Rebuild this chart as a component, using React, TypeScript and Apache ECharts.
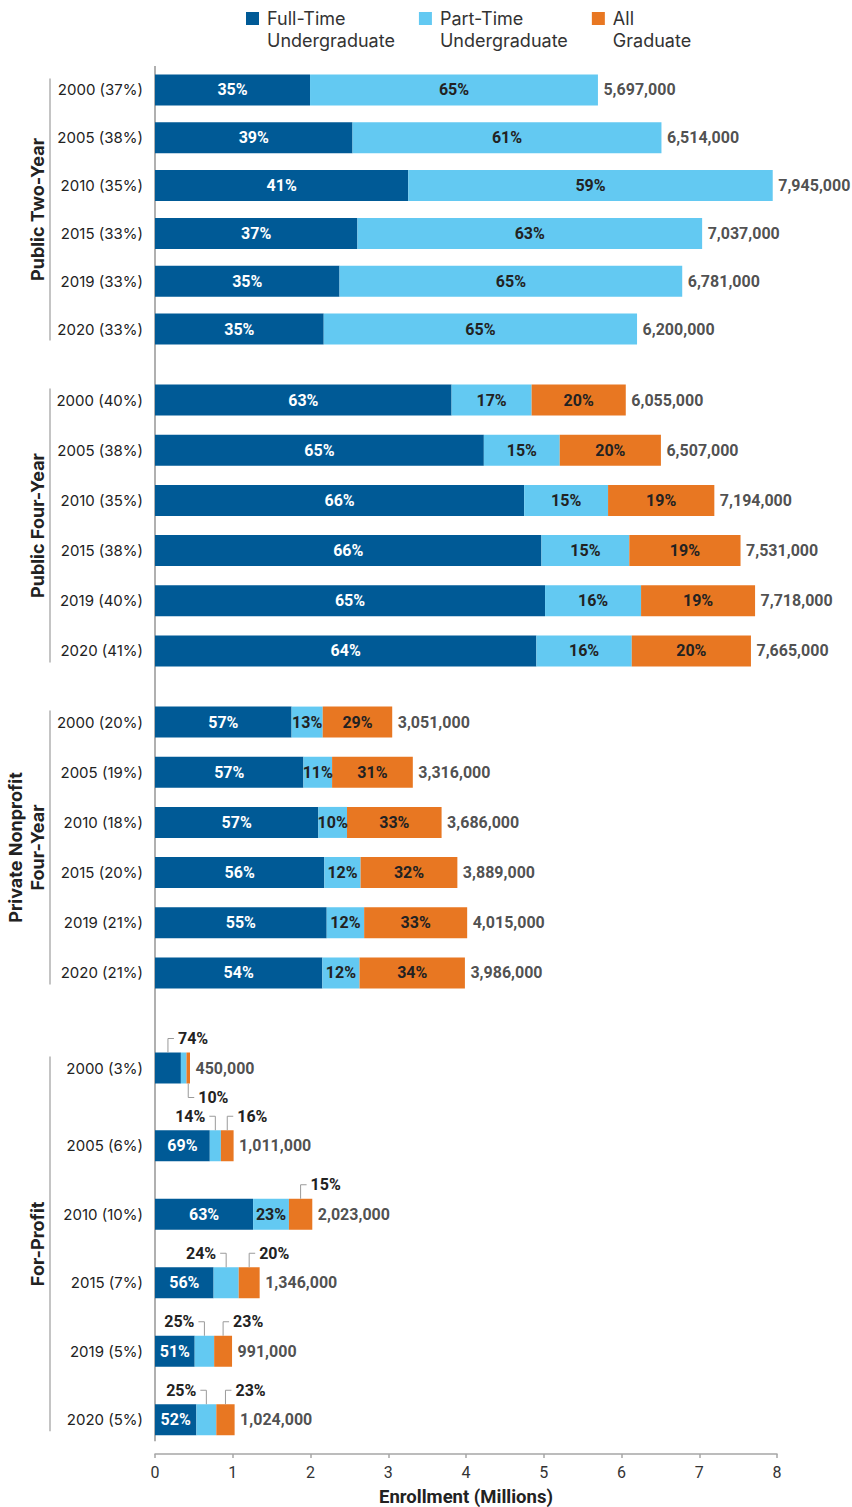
import React, { useEffect, useRef } from "react";
import * as echarts from "echarts";

// ---------- data ----------
const years = ["2000", "2005", "2010", "2015", "2019", "2020"];
const sectors = ["Public Two-Year", "Public Four-Year", "Private Nonprofit\nFour-Year", "For-Profit"];
const sectorShare = [
  ["37%", "38%", "35%", "33%", "33%", "33%"],
  ["40%", "38%", "35%", "38%", "40%", "41%"],
  ["20%", "19%", "18%", "20%", "21%", "21%"],
  ["3%", "6%", "10%", "7%", "5%", "5%"],
];
const totalEnrollment = [
  [5697000, 6514000, 7945000, 7037000, 6781000, 6200000],
  [6055000, 6507000, 7194000, 7531000, 7718000, 7665000],
  [3051000, 3316000, 3686000, 3889000, 4015000, 3986000],
  [450000, 1011000, 2023000, 1346000, 991000, 1024000],
];
const fullTimeShare = [
  [35, 39, 41, 37, 35, 35],
  [63, 65, 66, 66, 65, 64],
  [57, 57, 57, 56, 55, 54],
  [74, 69, 63, 56, 51, 52],
];
const partTimeShare = [
  [65, 61, 59, 63, 65, 65],
  [17, 15, 15, 15, 16, 16],
  [13, 11, 10, 12, 12, 12],
  [16, 14, 23, 24, 25, 25],
];
const graduateShare = [
  [0, 0, 0, 0, 0, 0],
  [20, 20, 19, 19, 19, 20],
  [29, 31, 33, 32, 33, 34],
  [10, 16, 15, 20, 23, 23],
];
const seriesNames = ["Full-Time\nUndergraduate", "Part-Time\nUndergraduate", "All\nGraduate"];
// For-Profit labels placed outside the bar: [row, segment (0 FT, 1 PT, 2 Grad), side]
const forProfitCallouts: [number, number, string][] = [
  [0, 0, "upRight"], [0, 2, "downRight"],
  [1, 1, "upLeft"], [1, 2, "upRight"],
  [2, 2, "upRight"],
  [3, 1, "upLeft"], [3, 2, "upRight"],
  [4, 1, "upLeft"], [4, 2, "upRight"],
  [5, 1, "upLeft"], [5, 2, "upRight"],
];
const forProfitUnlabeled: [number, number][] = [[0, 1]];

// ---------- styles / layout ----------
const COLORS = ["#005A96", "#63C9F2", "#E87722"];
const TEXT = "#222222";
const NUM_FONT = "Roboto";
const CAT_FONT = "Inter";
const BAR = 31;
const FP = 3;
// each panel = one grid holding a run of rows of one sector
const panels = [
  { group: 0, first: 0, count: 6, top: 66, height: 287 },
  { group: 1, first: 0, count: 6, top: 375, height: 301 },
  { group: 2, first: 0, count: 6, top: 697, height: 301 },
  { group: 3, first: 0, count: 1, top: 1038, height: 60 },
  { group: 3, first: 1, count: 5, top: 1111.5, height: 344.5 },
];
const LAST = panels.length - 1;
const GRID_LEFT = 155;
const GRID_RIGHT = 75;

const shares = [fullTimeShare, partTimeShare, graduateShare];
function segmentValue(g: number, i: number, k: number) {
  const sum = fullTimeShare[g][i] + partTimeShare[g][i] + graduateShare[g][i];
  return ((totalEnrollment[g][i] / 1e6) * shares[k][g][i]) / sum;
}
function isOutside(g: number, i: number, k: number) {
  if (g !== FP) return false;
  return (
    forProfitCallouts.some((c) => c[0] === i && c[1] === k) ||
    forProfitUnlabeled.some((c) => c[0] === i && c[1] === k)
  );
}
const rowsOf = (p: any) => Array.from({ length: p.count }, (_, j) => p.first + j);

function buildOption() {
  const grid = panels.map((b) => ({ left: GRID_LEFT, right: GRID_RIGHT, top: b.top, height: b.height }));
  const xAxis = panels.map((_, pi) => ({
    type: "value",
    gridIndex: pi,
    min: 0,
    max: 8,
    interval: 1,
    show: pi === LAST,
    splitLine: { show: false },
    axisLine: { show: true, lineStyle: { color: "#a6a6a6", width: 1.5 } },
    axisTick: { show: true, length: 4, lineStyle: { color: "#a6a6a6", width: 1.5 } },
    axisLabel: { margin: 10, color: "#333", fontFamily: NUM_FONT, fontSize: 16 },
    name: pi === LAST ? "Enrollment (Millions)" : "",
    nameLocation: "middle",
    nameGap: 33,
    nameTextStyle: { color: TEXT, fontFamily: NUM_FONT, fontWeight: "bold", fontSize: 18.5 },
  }));
  const yAxis = panels.map((p, pi) => ({
    type: "category",
    gridIndex: pi,
    inverse: true,
    data: rowsOf(p).map((i) => `${years[i]} (${sectorShare[p.group][i]})`),
    axisLine: { show: false },
    axisTick: { show: false },
    axisLabel: { interval: 0, margin: 12, color: TEXT, fontFamily: CAT_FONT, fontSize: 15 },
  }));

  const series: any[] = [];
  const sideCode: Record<string, number> = { upRight: 0, downRight: 1, upLeft: 2 };
  panels.forEach((p, pi) => {
    const g = p.group;
    const rows = rowsOf(p);
    for (let k = 0; k < 3; k++) {
      series.push({
        type: "bar",
        name: seriesNames[k],
        xAxisIndex: pi,
        yAxisIndex: pi,
        stack: "s" + pi,
        barWidth: BAR,
        itemStyle: { color: COLORS[k] },
        label: {
          show: true,
          position: "inside",
          formatter: (q: any) => q.data.pct + "%",
          color: k === 0 ? "#ffffff" : TEXT,
          fontFamily: NUM_FONT,
          fontWeight: "bold",
          fontSize: 16,
        },
        data: rows.map((i) => ({
          value: segmentValue(g, i, k),
          pct: shares[k][g][i],
          label: { show: shares[k][g][i] > 0 && !isOutside(g, i, k) },
        })),
      });
    }
    series.push({
      type: "scatter",
      xAxisIndex: pi,
      yAxisIndex: pi,
      symbolSize: 1,
      itemStyle: { color: "rgba(0,0,0,0)" },
      silent: true,
      data: rows.map((i, j) => [totalEnrollment[g][i] / 1e6, j]),
      label: {
        show: true,
        position: "right",
        distance: 5,
        formatter: (q: any) => totalEnrollment[g][rows[q.dataIndex]].toLocaleString("en-US"),
        color: TEXT,
        fontFamily: NUM_FONT,
        fontWeight: "bold",
        fontSize: 16,
      },
    });

    if (g === FP) {
      const calloutData = forProfitCallouts
        .filter(([i]) => i >= p.first && i < p.first + p.count)
        .map(([i, k, side]) => {
          let start = 0;
          for (let j = 0; j < k; j++) start += segmentValue(FP, i, j);
          return [start + segmentValue(FP, i, k) / 2, i - p.first, sideCode[side], shares[k][FP][i]];
        });
      series.push({
        type: "custom",
        xAxisIndex: pi,
        yAxisIndex: pi,
        silent: true,
        z: 5,
        data: calloutData,
        encode: { x: 0, y: 1 },
        renderItem: (params: any, api: any) => {
          const pt = api.coord([api.value(0), api.value(1)]);
          const side = api.value(2);
          const up = side !== 1;
          const dir = side === 2 ? -1 : 1;
          const yBar = up ? pt[1] - BAR / 2 : pt[1] + BAR / 2;
          const yL = up ? yBar - 14 : yBar + 14;
          const xEnd = pt[0] + dir * 6;
          return {
            type: "group",
            children: [
              {
                type: "polyline",
                shape: { points: [[pt[0], yBar], [pt[0], yL], [xEnd, yL]] },
                style: { stroke: "#9a9a9a", lineWidth: 1, fill: "none" },
              },
              {
                type: "text",
                x: xEnd + dir * 4,
                y: yL,
                style: {
                  text: api.value(3) + "%",
                  align: dir > 0 ? "left" : "right",
                  verticalAlign: "middle",
                  fill: TEXT,
                  fontFamily: NUM_FONT,
                  fontWeight: "bold",
                  fontSize: 16,
                },
              },
            ],
          };
        },
      });
    }
  });

  return {
    animation: false,
    backgroundColor: "#ffffff",
    legend: {
      top: -14.5,
      left: 246,
      padding: 0,
      itemWidth: 13,
      itemHeight: 13,
      itemGap: 24,
      icon: "rect",
      selectedMode: false,
      data: seriesNames,
      formatter: (name: string) => "\n" + name,
      textStyle: {
        fontFamily: CAT_FONT,
        fontSize: 18,
        color: "#333",
        lineHeight: 22,
        padding: [0, 0, 0, 3],
      },
    },
    grid,
    xAxis,
    yAxis,
    series,
  };
}

export default function App() {
  const ref = useRef<HTMLDivElement>(null);
  useEffect(() => {
    if (!ref.current) return;
    const chart = echarts.init(ref.current, null, { renderer: "svg" });
    chart.setOption(buildOption() as any);

    const graphics: any[] = [];
    const axisX = chart.convertToPixel({ xAxisIndex: 0 }, 0) as number;
    const lastBottom =
      (chart.convertToPixel({ yAxisIndex: LAST }, panels[LAST].count - 1) as number) + BAR / 2 + 6;
    graphics.push({
      type: "line",
      shape: { x1: axisX, y1: panels[0].top, x2: axisX, y2: lastBottom },
      style: { stroke: "#b0b0b0", lineWidth: 2 },
    });
    sectors.forEach((name, g) => {
      const idx = panels.map((p, pi) => (p.group === g ? pi : -1)).filter((v) => v >= 0);
      const firstP = idx[0];
      const lastP = idx[idx.length - 1];
      const yTop = (chart.convertToPixel({ yAxisIndex: firstP }, 0) as number) - BAR / 2 + 4;
      const yBot =
        (chart.convertToPixel({ yAxisIndex: lastP }, panels[lastP].count - 1) as number) + BAR / 2 - 4;
      graphics.push({
        type: "line",
        shape: { x1: 50, y1: yTop, x2: 50, y2: yBot },
        style: { stroke: "#b0b0b0", lineWidth: 1.5 },
      });
      const twoLine = name.indexOf("\n") >= 0;
      graphics.push({
        type: "text",
        x: twoLine ? 26 : 37,
        y: (yTop + yBot) / 2,
        rotation: Math.PI / 2,
        style: {
          text: name,
          align: "center",
          verticalAlign: "middle",
          fill: TEXT,
          fontFamily: CAT_FONT,
          fontWeight: "bold",
          fontSize: 18,
          lineHeight: 22,
        },
      });
    });
    chart.setOption({ graphic: graphics });

    return () => chart.dispose();
  }, []);
  return (
    <div
      ref={ref}
      style={{ position: "fixed", left: 0, top: 0, width: 852, height: 1507 }}
    />
  );
}
